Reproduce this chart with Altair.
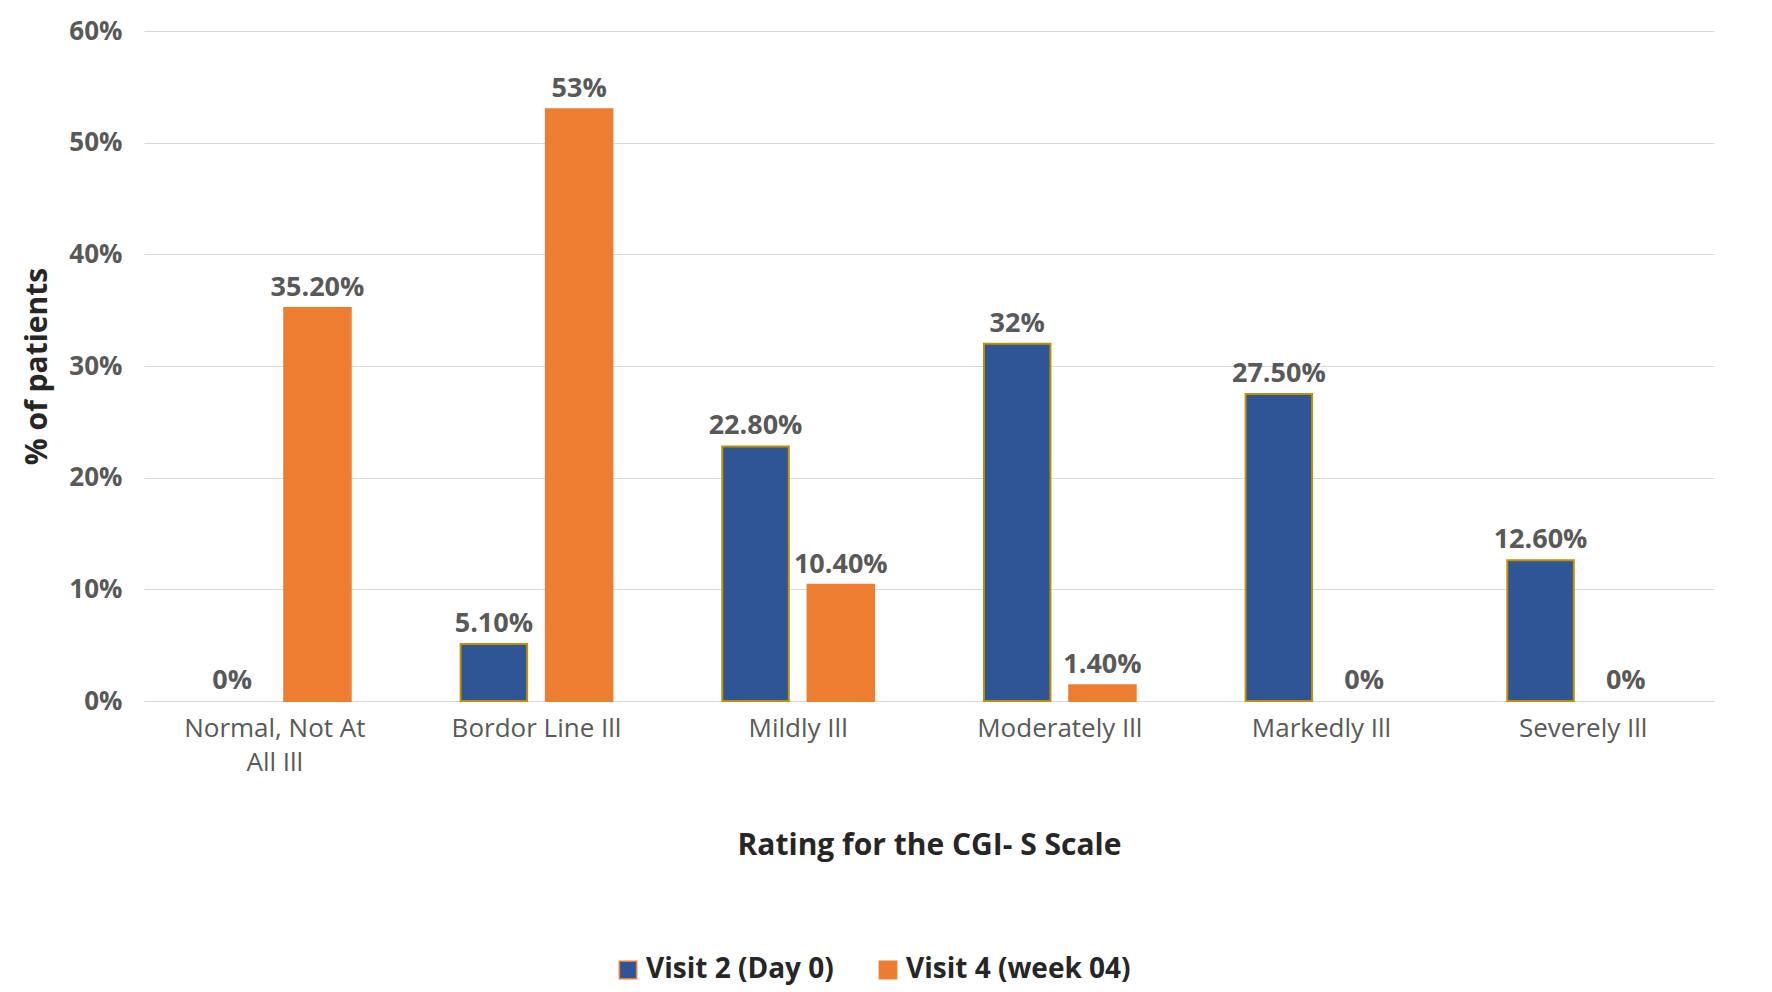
import altair as alt
import pandas as pd

categories = ["Normal, Not At All Ill", "Bordor Line Ill", "Mildly Ill",
              "Moderately Ill", "Markedly Ill", "Severely Ill"]
visit2 = [0, 5.1, 22.8, 32, 27.5, 12.6]
visit4 = [35.2, 53, 10.4, 1.4, 0, 0]
visit2_labels = ["0%", "5.10%", "22.80%", "32%", "27.50%", "12.60%"]
visit4_labels = ["35.20%", "53%", "10.40%", "1.40%", "0%", "0%"]
series = ["Visit 2 (Day 0)", "Visit 4 (week 04)"]

rows = []
for i, c in enumerate(categories):
    rows.append({"cat": c, "series": series[0], "value": visit2[i], "label": visit2_labels[i]})
    rows.append({"cat": c, "series": series[1], "value": visit4[i], "label": visit4_labels[i]})
df = pd.DataFrame(rows)

font = "Open Sans"
gray = "#595959"

x = alt.X("cat:N", sort=categories, title="Rating for the CGI- S Scale",
          scale=alt.Scale(paddingInner=0.42, paddingOuter=0.21),
          axis=alt.Axis(labelAngle=0, labelFontSize=26, labelColor=gray, labelFont=font,
                        labelLimit=0, labelLineHeight=34,
                        titleFontSize=30, titleFontWeight="bold", titleColor="#262626",
                        titleFont=font, titlePadding=55, domainColor="#d9d9d9", ticks=False,
                        labelPadding=14,
                        labelExpr="datum.label == 'Normal, Not At All Ill' ? ['Normal, Not At', 'All Ill'] : datum.label"))
y = alt.Y("value:Q", title="% of patients",
          scale=alt.Scale(domain=[0, 60]),
          axis=alt.Axis(values=[0, 10, 20, 30, 40, 50, 60], labelExpr="datum.value + '%'",
                        labelFontSize=26, labelFontWeight="bold", labelColor=gray, labelFont=font,
                        titleFontSize=30, titleFontWeight="bold", titleColor="#262626",
                        titleFont=font, titlePadding=16, gridColor="#d9d9d9",
                        domain=False, ticks=False, labelPadding=22))
xoff = alt.XOffset("series:N", sort=series, scale=alt.Scale(paddingInner=0.22))

base = alt.Chart(df).encode(x=x, xOffset=xoff)

bars = base.mark_bar(strokeWidth=2).encode(
    y=y,
    color=alt.Color("series:N", sort=series, title=None,
                    scale=alt.Scale(domain=series, range=["#2F5597", "#ED7D31"]),
                    legend=alt.Legend(orient="none", legendX=470, legendY=925,
                                      direction="horizontal", symbolType="square",
                                      labelFontSize=28, labelFontWeight="bold", labelColor="#262626",
                                      labelFont=font, symbolSize=300, columnPadding=40,
                                      labelLimit=0)),
    stroke=alt.condition("datum.series == 'Visit 2 (Day 0)'", alt.value("#BF9000"), alt.value("#ED7D31")),
    strokeOpacity=alt.condition("datum.value > 0", alt.value(1), alt.value(0)),
)

labels = base.mark_text(dy=-20, fontSize=27, fontWeight="bold", color=gray, font=font).encode(
    y=alt.Y("value:Q"), text="label:N")

chart = (bars + labels).properties(
    width=1570, height=670, padding={"left": 14, "top": 10, "right": 5, "bottom": 5}
).configure_view(stroke=None)
chart.save("out.html", embed_options={"renderer": "svg", "actions": False})
